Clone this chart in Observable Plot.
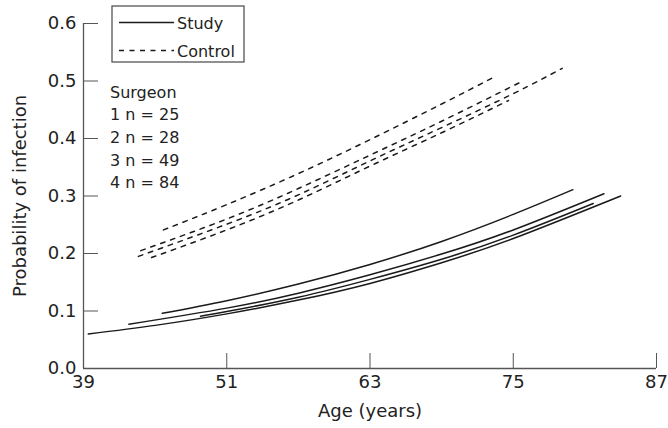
<!DOCTYPE html>
<html><head><meta charset="utf-8">
<script src="https://cdn.jsdelivr.net/npm/d3@7"></script>
<script src="https://cdn.jsdelivr.net/npm/@observablehq/plot@0.6"></script>
<style>
body{margin:0;background:#fff}
#chart{position:relative;width:668px;height:428px}
</style>
</head><body><div id="chart"></div>
<script>
// Tick values
const xTicks = [39, 51, 63, 75, 87];
const yTicks = [0, 0.1, 0.2, 0.3, 0.4, 0.5, 0.6];

// Surgeon labels
const surgeonIds = [1, 2, 3, 4];
const surgeonN = [25, 28, 49, 84];

// Study group curves: [age, probability]
const study1 = [[45.6,0.096],[51,0.118],[57,0.147],[63,0.181],[69,0.221],[75,0.268],[80.0,0.311]];
const study2 = [[42.8,0.077],[51,0.105],[57,0.131],[63,0.163],[69,0.199],[75,0.241],[82.6,0.304]];
const study3 = [[48.8,0.091],[51,0.099],[57,0.124],[63,0.155],[69,0.190],[75,0.232],[81.7,0.287]];
const study4 = [[39.4,0.060],[45,0.075],[51,0.095],[57,0.119],[63,0.148],[69,0.184],[75,0.226],[84.0,0.300]];

// Control group curves: [age, probability]
const control1 = [[45.7,0.241],[51,0.285],[57,0.339],[63,0.398],[69,0.460],[73.6,0.509]];
const control2 = [[43.8,0.205],[51,0.260],[57,0.313],[63,0.371],[69,0.430],[75.9,0.501]];
const control3 = [[43.6,0.195],[51,0.251],[57,0.302],[63,0.361],[69,0.419],[75,0.478],[79.1,0.522]];
const control4 = [[44.7,0.193],[51,0.241],[57,0.293],[63,0.352],[69,0.410],[74.6,0.466]];

const studyCurves = [study1, study2, study3, study4];
const controlCurves = [control1, control2, control3, control4];

const toRows = (curves, group) => curves.flatMap((c, i) => c.map(([age, p]) => ({age, p, surgeon: surgeonIds[i], group})));
const studyRows = toRows(studyCurves, "Study");
const controlRows = toRows(controlCurves, "Control");

const FONT = "DejaVu Sans";
const ink = "#222";
const axisInk = "#555";

const chart = Plot.plot({
  width: 668,
  height: 428,
  marginLeft: 83,
  marginRight: 12,
  marginTop: 23,
  marginBottom: 60,
  x: {domain: [39, 87]},
  y: {domain: [0, 0.6]},
  style: {fontFamily: FONT, fontSize: "18px", color: ink, background: "white"},
  marks: [
    Plot.ruleX([39], {y1: 0, y2: 0.6, stroke: axisInk, strokeWidth: 1.3}),
    Plot.ruleY([0], {x1: 39, x2: 87, stroke: axisInk, strokeWidth: 1.3}),
    Plot.axisX(xTicks, {tickSize: -15, tickPadding: 22, stroke: axisInk, fill: ink, fontSize: 18, label: null, tickFormat: d => String(d)}),
    Plot.axisY(yTicks, {tickSize: -15, tickPadding: 22, stroke: axisInk, fill: ink, fontSize: 18, label: null, tickFormat: d3.format(".1f")}),
    Plot.text(["Age (years)"], {frameAnchor: "bottom", dy: 48, fontSize: 18, fill: ink}),
    Plot.text(["Probability of infection"], {frameAnchor: "left", textAnchor: "middle", rotate: -90, dx: -63, fontSize: 18, fill: ink}),
    Plot.line(studyRows, {x: "age", y: "p", z: "surgeon", curve: "natural", stroke: "#1a1a1a", strokeWidth: 1.5}),
    Plot.line(controlRows, {x: "age", y: "p", z: "surgeon", curve: "natural", stroke: "#1a1a1a", strokeWidth: 1.5, strokeDasharray: "4.5,6"})
  ]
});

document.getElementById("chart").appendChild(chart);

// Legend box and surgeon annotation
const svg = d3.select(chart);
const g = svg.append("g").attr("font-family", FONT).attr("fill", ink).attr("text-anchor", "start");
g.append("rect").attr("x", 112).attr("y", 6).attr("width", 132).attr("height", 56)
  .attr("fill", "white").attr("stroke", axisInk).attr("stroke-width", 1.3);
g.append("line").attr("x1", 119).attr("x2", 174).attr("y1", 22.5).attr("y2", 22.5)
  .attr("stroke", "#1a1a1a").attr("stroke-width", 1.5);
g.append("line").attr("x1", 119).attr("x2", 174).attr("y1", 50.5).attr("y2", 50.5)
  .attr("stroke", "#1a1a1a").attr("stroke-width", 1.5).attr("stroke-dasharray", "5,5.5");
g.append("text").attr("x", 177).attr("y", 29).attr("font-size", 16).text("Study");
g.append("text").attr("x", 177).attr("y", 57).attr("font-size", 16).text("Control");

const lines = ["Surgeon", ...surgeonIds.map((s, i) => `${s} n = ${surgeonN[i]}`)];
g.selectAll("text.surg").data(lines).join("text").attr("class", "surg")
  .attr("x", 110).attr("y", (d, i) => 97.5 + i * 22.7).attr("font-size", 16).text(d => d);
</script>
</body></html>
